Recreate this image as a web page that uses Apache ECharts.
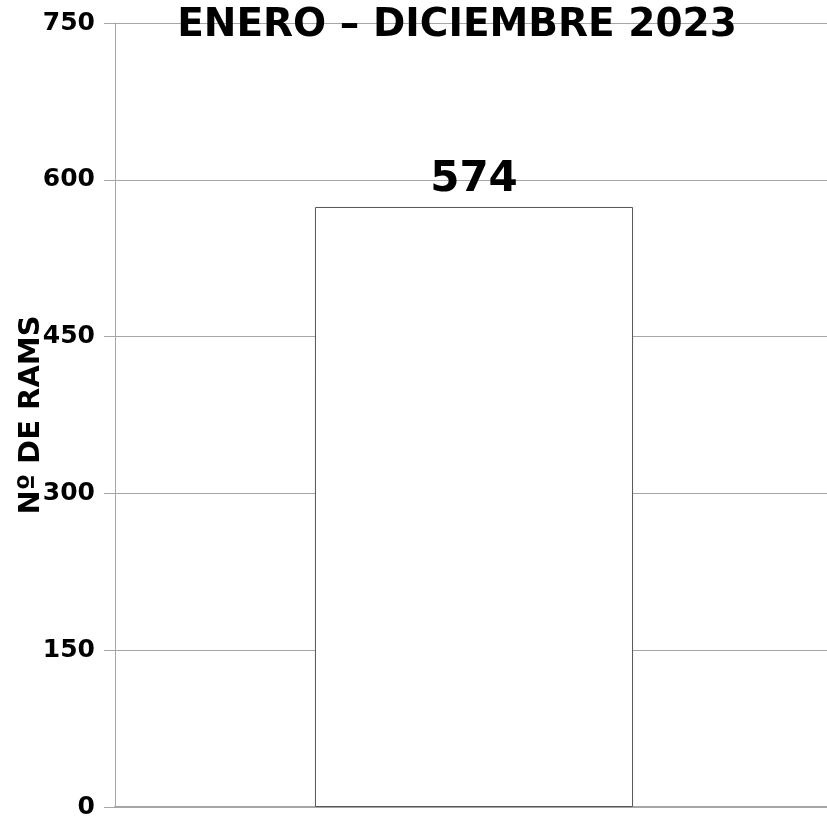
<!DOCTYPE html>
<html>
<head>
<meta charset="utf-8">
<script src="https://cdn.jsdelivr.net/npm/echarts@6/dist/echarts.min.js"></script>
<style>
html,body{margin:0;padding:0;background:#fff}
#chart{width:827px;height:820px}
</style>
</head>
<body>
<div id="chart"></div>
<script>
// datos del gráfico
const categories = [""]
const rams = [574]
const yTicks = {min: 0, max: 750, step: 150}
const titleText = "ENERO – DICIEMBRE 2023"
const yName = "Nº DE RAMS"

const font = "DejaVu Sans"
const chart = echarts.init(document.getElementById("chart"))
chart.setOption({
	animation: false,
	title: {
		text: titleText,
		left: 452,
		textAlign: "center",
		top: 1,
		textStyle: {fontFamily: font, fontWeight: "bold", fontSize: 39, color: "#000"}
	},
	grid: {left: 115, right: -6, top: 23, bottom: 13, outerBoundsMode: "none"},
	xAxis: {
		type: "category",
		data: categories,
		axisLine: {show: true, lineStyle: {color: "#a6a6a6", width: 2}},
		axisTick: {show: false},
		axisLabel: {show: false}
	},
	yAxis: {
		type: "value",
		min: yTicks.min,
		max: yTicks.max,
		interval: yTicks.step,
		name: yName,
		nameLocation: "middle",
		nameGap: 69,
		nameMoveOverlap: false,
		nameTextStyle: {fontFamily: font, fontWeight: "bold", fontSize: 29, color: "#000"},
		axisLine: {show: true, lineStyle: {color: "#a6a6a6", width: 1}},
		axisTick: {show: true, length: 11, lineStyle: {color: "#a6a6a6"}},
		axisLabel: {margin: 20, fontFamily: font, fontWeight: "bold", fontSize: 25, color: "#000"},
		splitLine: {show: true, lineStyle: {color: "#a6a6a6", width: 1}}
	},
	series: [{
		type: "bar",
		data: rams,
		barWidth: "44.3%",
		itemStyle: {color: "#fff", borderColor: "#555", borderWidth: 1},
		label: {
			show: true,
			position: "top",
			distance: 6,
			fontFamily: font,
			fontWeight: "bold",
			fontSize: 42,
			color: "#000"
		}
	}]
})
</script>
</body>
</html>
